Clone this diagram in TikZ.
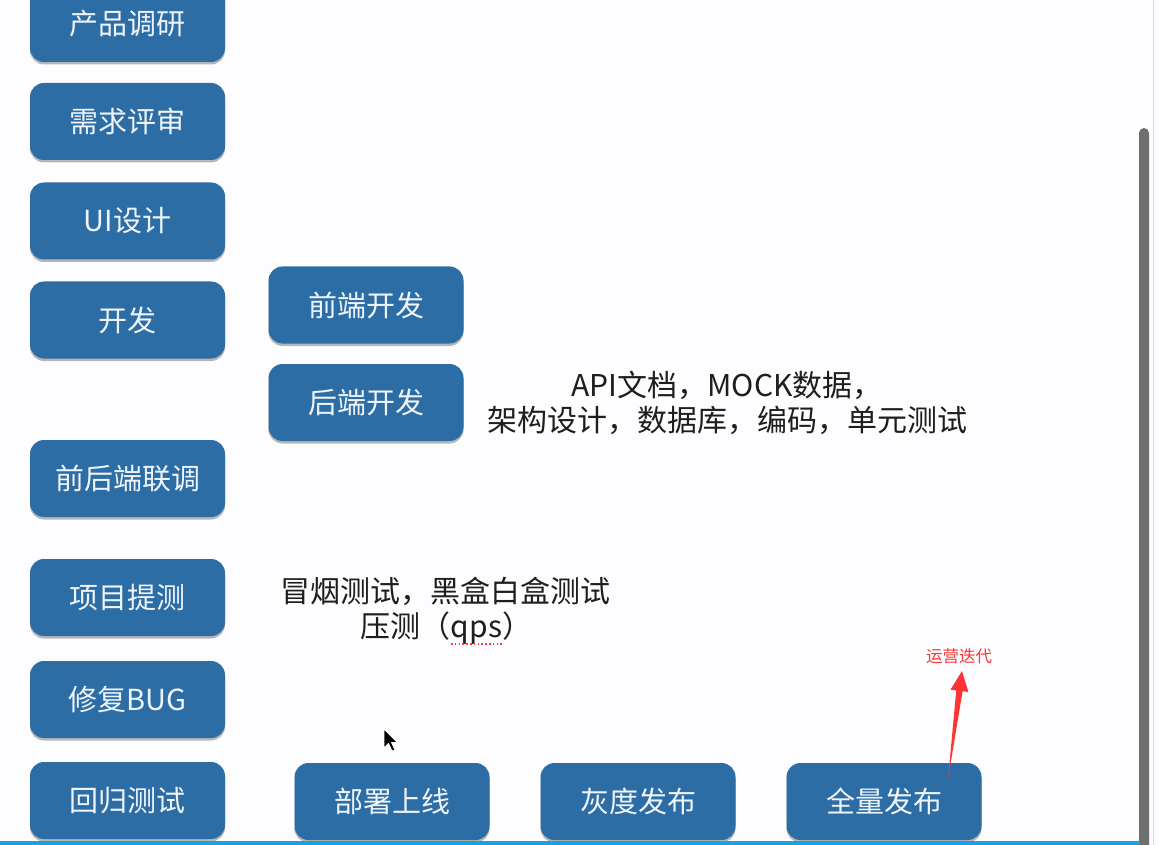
\documentclass[tikz,border=0pt]{standalone}
\usepackage{fontspec}
\newfontfamily\cjk{Noto Sans CJK SC}
\usetikzlibrary{calc,shadows}
\definecolor{boxblue}{HTML}{2D6DA6}
\definecolor{boxtext}{HTML}{EEF4FA}
\definecolor{annot}{HTML}{1E1E1E}
\definecolor{redmark}{HTML}{FF3535}
\definecolor{scrollgray}{HTML}{6F6F6F}
\definecolor{barblue}{HTML}{1BA1DE}
\definecolor{bgwhite}{HTML}{FDFDFF}
\tikzset{
  stepbox/.style={rounded corners=14pt, fill=boxblue, draw=none,
    minimum width=195pt, minimum height=77pt, inner sep=0pt,
    text=boxtext, font=\cjk\fontsize{29}{34}\selectfont,
    drop shadow={shadow xshift=0pt, shadow yshift=-2.5pt, opacity=0.4, fill=black!70}},
  notetext/.style={text=annot, font=\cjk\fontsize{30}{35}\selectfont, align=center, inner sep=0pt}
}
\begin{document}
\begin{tikzpicture}[x=1pt,y=-1pt]
\useasboundingbox (0,0) rectangle (1160,845);
\fill[bgwhite] (0,0) rectangle (1160,845);
% left column
\node[stepbox] (s1) at (127.5,23.5) {产品调研};
\node[stepbox] (s2) at (127.5,121.5) {需求评审};
\node[stepbox] (s3) at (127.5,221) {UI设计};
\node[stepbox] (s4) at (127.5,320) {开发};
\node[stepbox] (s5) at (127.5,478.5) {前后端联调};
\node[stepbox] (s6) at (127.5,597.5) {项目提测};
\node[stepbox] (s7) at (127.5,699.5) {修复BUG};
\node[stepbox] (s8) at (127.5,800.5) {回归测试};
% second column
\node[stepbox] (fe) at (366,305) {前端开发};
\node[stepbox] (be) at (366,402.5) {后端开发};
% bottom row
\node[stepbox] (d1) at (392,801.5) {部署上线};
\node[stepbox] (d2) at (638,801.5) {灰度发布};
\node[stepbox] (d3) at (884,801.5) {全量发布};
% annotations
\node[notetext] (n1) at (727,403) {API文档，MOCK数据，\\架构设计，数据库，编码，单元测试};
\node[notetext] (n2) at (445,611) {冒烟测试，黑盒白盒测试\\\hspace*{3pt}压测（qps）};
\draw[redmark, line width=1.6pt, dash pattern=on 1.6pt off 2.2pt] (451,644) -- (502,644);
\node[text=redmark, font=\cjk\fontsize{16.5}{19}\selectfont, inner sep=0pt] (op) at (959,656) {运营迭代};
% red tapered arrow
\coordinate (aS) at (948,779);
\coordinate (aT) at (962,671);
\coordinate (aH) at ($(aT)!20pt!(aS)$);
\fill[redmark] (aS) -- ($(aH)!3.2pt!90:(aT)$) -- ($(aH)!9pt!90:(aT)$) -- (aT)
  -- ($(aH)!9pt!-90:(aT)$) -- ($(aH)!3.2pt!-90:(aT)$) -- cycle;
% mouse cursor
\filldraw[fill=black, draw=white, line width=0.8pt, line join=round]
  (384,729) -- (384,748) -- (388.5,743.5) -- (392,751) -- (395,749.8) -- (391.5,742.5) -- (397.5,742.5) -- cycle;
% window chrome: scrollbar and bottom bar
\draw[black!15, line width=0.8pt] (1153.5,0) -- (1153.5,845);
\fill[scrollgray, rounded corners=5pt] (1139,128) rectangle (1149,860);
\fill[barblue] (0,841) rectangle (1140,845);
\end{tikzpicture}
\end{document}
